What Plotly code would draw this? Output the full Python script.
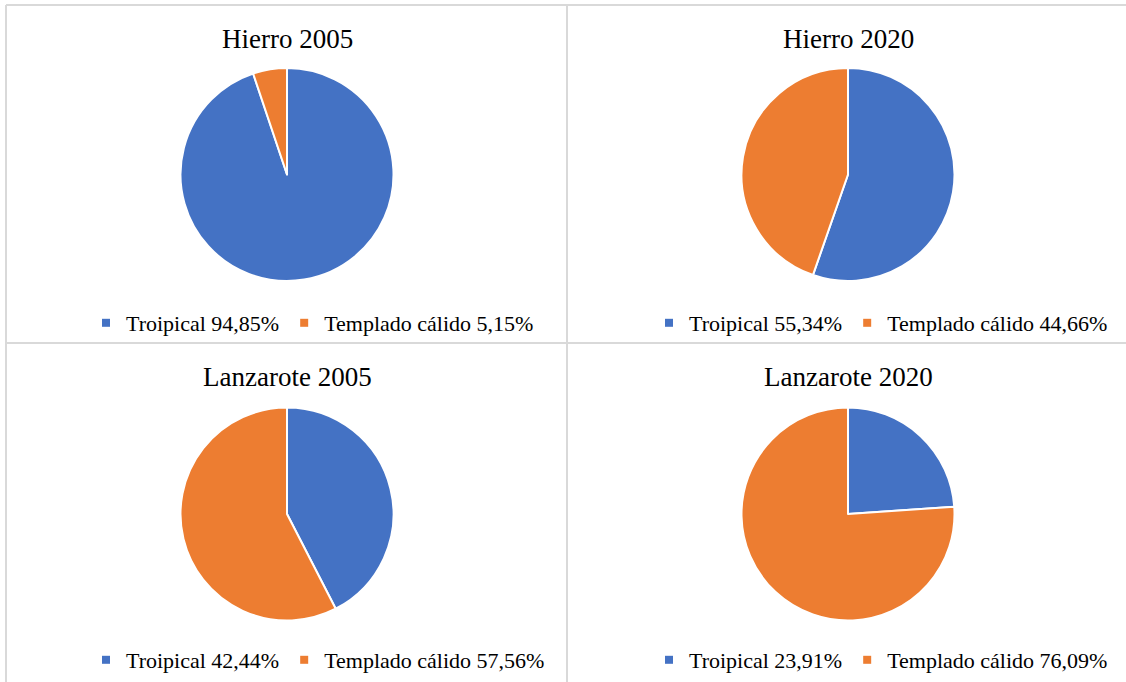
import plotly.graph_objects as go

# ---- data ----
titles = ["Hierro 2005", "Hierro 2020", "Lanzarote 2005", "Lanzarote 2020"]
categories = ["Troipical", "Templado cálido"]
tropical = [94.85, 55.34, 42.44, 23.91]
templado = [5.15, 44.66, 57.56, 76.09]
colors = ["#4472C4", "#ED7D31"]

W, H = 1126, 682
FONT = "Liberation Serif, Times New Roman, serif"

# panel layout (pixels)
pie_cx = [287, 848, 287, 848]
pie_cy = [174.5, 174.5, 514, 514]
pie_r = 106.5
title_y = [39, 39, 377, 377]
leg_text_x = [131, 694, 131, 694]
leg_y = [323, 323, 660, 660]

def px(x):
    return x / W

def py(y):
    return 1 - y / H

def fmt(v):
    return f"{v:.2f}".replace(".", ",") + "%"

fig = go.Figure()
legend_names = ["legend", "legend2", "legend3", "legend4"]

for i in range(4):
    vals = [tropical[i], templado[i]]
    fig.add_trace(go.Pie(
        labels=categories,
        values=vals,
        sort=False,
        direction="clockwise",
        rotation=0,
        textinfo="none",
        hoverinfo="label+percent",
        marker=dict(colors=colors, line=dict(color="white", width=2)),
        showlegend=False,
        domain=dict(x=[px(pie_cx[i] - pie_r), px(pie_cx[i] + pie_r)],
                    y=[py(pie_cy[i] + pie_r), py(pie_cy[i] - pie_r)]),
    ))
    for cat, v, c in zip(categories, vals, colors):
        fig.add_trace(go.Scatter(
            x=[None], y=[None], mode="markers",
            name=f"{cat} {fmt(v)}",
            marker=dict(symbol="square", size=8, color=c, line=dict(width=0)),
            legend=legend_names[i],
            showlegend=True,
            hoverinfo="skip",
        ))
    fig.add_annotation(
        text=titles[i], x=px(pie_cx[i]), y=py(title_y[i]),
        xref="paper", yref="paper", xanchor="center", yanchor="middle",
        showarrow=False, font=dict(family=FONT, size=27, color="#000000"),
    )

layout_legends = {}
for i, name in enumerate(legend_names):
    layout_legends[name] = dict(
        orientation="h", xanchor="left", yanchor="middle",
        x=px(leg_text_x[i] - 45), y=py(leg_y[i]),
        bgcolor="rgba(0,0,0,0)", borderwidth=0,
        font=dict(family=FONT, size=22, color="#000000"),
        itemclick=False, itemdoubleclick=False,
    )

# grid lines (panel borders)
line_style = dict(color="#D9D9D9", width=2)
shapes = [
    dict(type="line", xref="paper", yref="paper", x0=px(6), x1=1, y0=py(5), y1=py(5), line=line_style),
    dict(type="line", xref="paper", yref="paper", x0=px(6), x1=px(6), y0=py(5), y1=0, line=line_style),
    dict(type="line", xref="paper", yref="paper", x0=px(567), x1=px(567), y0=py(5), y1=0, line=line_style),
    dict(type="line", xref="paper", yref="paper", x0=px(6), x1=1, y0=py(343), y1=py(343), line=line_style),
]

fig.update_layout(
    width=W, height=H,
    margin=dict(l=0, r=0, t=0, b=0),
    paper_bgcolor="white", plot_bgcolor="white",
    font=dict(family=FONT, color="#000000"),
    xaxis=dict(visible=False), yaxis=dict(visible=False),
    shapes=shapes,
    **layout_legends,
)

fig.write_html(
    "out.html",
    config={"displayModeBar": False},
    post_script="document.body.style.margin='0';document.body.style.overflow='hidden';",
)
